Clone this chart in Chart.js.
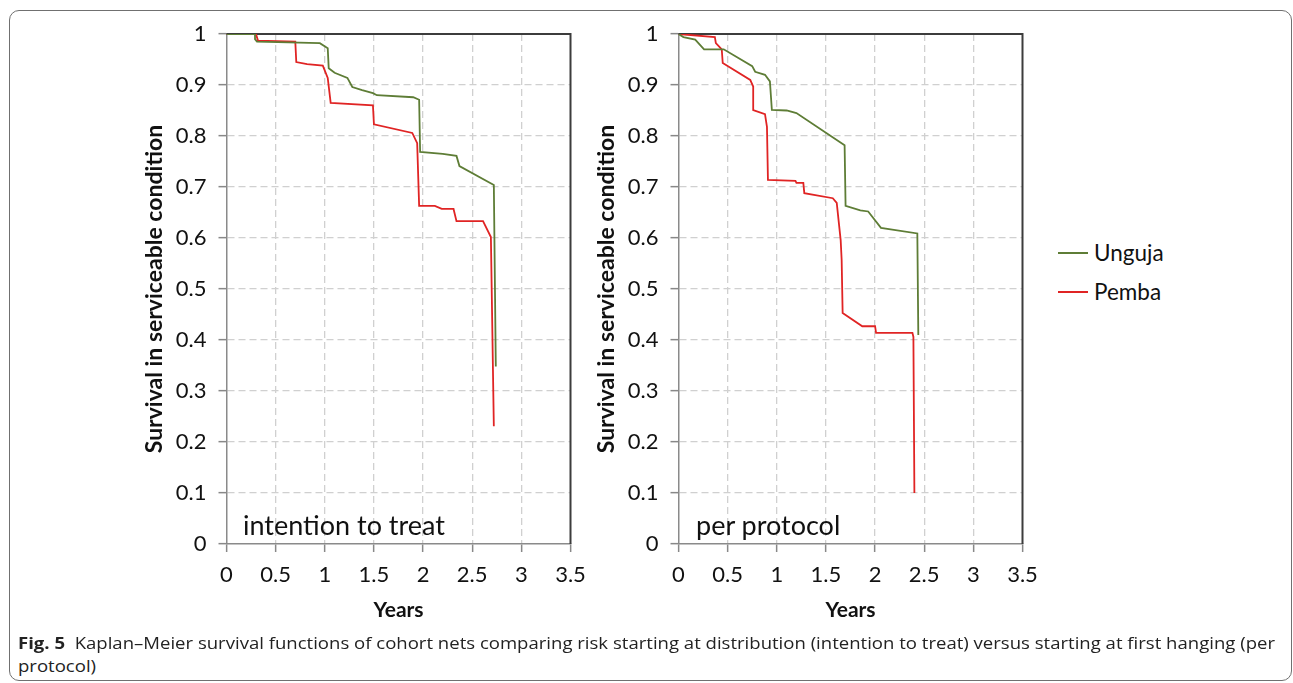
<!DOCTYPE html>
<html><head><meta charset="utf-8">
<script src="https://cdn.jsdelivr.net/npm/chart.js@4.4.1/dist/chart.umd.min.js"></script>
<style>
html,body{margin:0;padding:0;background:#fff;}
body{width:1293px;height:683px;position:relative;overflow:hidden;font-family:Lato,'Open Sans',sans-serif;}
#frame{position:absolute;left:9px;top:10px;width:1283px;height:671px;border:1.5px solid #707070;border-radius:10px;box-sizing:border-box;}
.cw{position:absolute;top:0;width:600px;height:640px;}
.note{position:absolute;font-size:27px;line-height:32px;color:#111;white-space:nowrap;}
.legline{position:absolute;left:1058px;width:30px;height:2px;}
.legtxt{position:absolute;left:1094px;font-size:22.5px;line-height:26px;color:#111;white-space:nowrap;}
.cap{position:absolute;left:18px;font-family:'Open Sans',sans-serif;font-size:15.5px;line-height:23px;color:#222;white-space:nowrap;transform-origin:0 50%;}
</style></head>
<body>
<div id="frame"></div>
<div class="cw" style="left:0"><canvas id="c1" width="600" height="640"></canvas></div>
<div class="cw" style="left:452px"><canvas id="c2" width="600" height="640"></canvas></div>
<div class="note" style="left:243px;top:509px">intention to treat</div>
<div class="note" style="left:696px;top:509px">per protocol</div>
<div class="legline" style="top:252px;background:#5e7d36"></div>
<div class="legtxt" style="top:240px">Unguja</div>
<div class="legline" style="top:291px;background:#e02424"></div>
<div class="legtxt" style="top:279px">Pemba</div>
<div class="cap" id="cap1" style="top:632px"><b>Fig. 5</b>&nbsp; Kaplan–Meier survival functions of cohort nets comparing risk starting at distribution (intention to treat) versus starting at first hanging (per</div>
<div class="cap" id="cap2" style="top:655px">protocol)</div>
<script>
// ---- data ----
const xTickLabels = ['0','0.5','1','1.5','2','2.5','3','3.5'];
const yTickLabels = ['0','0.1','0.2','0.3','0.4','0.5','0.6','0.7','0.8','0.9','1'];
const seriesNames = ['Unguja','Pemba'];

// Intention to treat
const ittUngujaX = [0, 0.29, 0.29, 0.31, 0.95, 1.03, 1.04, 1.10, 1.23, 1.28, 1.38, 1.49, 1.53, 1.90, 1.96, 1.97, 2.20, 2.34, 2.37, 2.72, 2.74];
const ittUngujaY = [1, 1, 0.99, 0.985, 0.982, 0.972, 0.933, 0.924, 0.914, 0.896, 0.890, 0.884, 0.880, 0.876, 0.871, 0.769, 0.765, 0.761, 0.741, 0.704, 0.348];
const ittPembaX = [0, 0.30, 0.32, 0.70, 0.71, 0.82, 0.98, 1.03, 1.06, 1.49, 1.50, 1.89, 1.94, 1.96, 2.12, 2.19, 2.31, 2.34, 2.61, 2.69, 2.72];
const ittPembaY = [1, 1, 0.987, 0.985, 0.945, 0.941, 0.938, 0.914, 0.865, 0.860, 0.823, 0.806, 0.786, 0.663, 0.663, 0.657, 0.657, 0.633, 0.633, 0.602, 0.231];

// Per protocol
const ppUngujaX = [0, 0.05, 0.17, 0.26, 0.46, 0.75, 0.78, 0.88, 0.93, 0.95, 1.10, 1.20, 1.69, 1.70, 1.85, 1.93, 2.06, 2.43, 2.44];
const ppUngujaY = [1, 0.994, 0.989, 0.970, 0.970, 0.937, 0.926, 0.920, 0.907, 0.851, 0.850, 0.845, 0.782, 0.663, 0.654, 0.652, 0.620, 0.609, 0.410];
const ppPembaX = [0, 0.37, 0.38, 0.44, 0.45, 0.73, 0.76, 0.76, 0.88, 0.90, 0.91, 1.19, 1.20, 1.27, 1.28, 1.57, 1.61, 1.65, 1.66, 1.67, 1.87, 2.00, 2.01, 2.38, 2.39, 2.40];
const ppPembaY = [1, 0.994, 0.982, 0.970, 0.943, 0.910, 0.897, 0.851, 0.843, 0.818, 0.714, 0.712, 0.708, 0.708, 0.688, 0.678, 0.669, 0.596, 0.557, 0.453, 0.427, 0.427, 0.414, 0.414, 0.406, 0.100];

const colors = ['#5e7d36', '#e02424'];

function pts(xs, ys){ return xs.map((x,i)=>({x:x, y:ys[i]})); }

const framePlugin = {
  id:'frameTR',
  beforeDatasetsDraw(chart){
    const {ctx, chartArea:a} = chart;
    ctx.save();
    ctx.strokeStyle = '#3c3c3c';
    ctx.lineWidth = 2;
    ctx.beginPath();
    ctx.moveTo(a.left, a.top);
    ctx.lineTo(a.right, a.top);
    ctx.lineTo(a.right, a.bottom);
    ctx.stroke();
    ctx.restore();
  }
};

function gridColor(maxV){
  return (c) => {
    const v = c.tick ? c.tick.value : null;
    if (v === null) return '#d0d0d0';
    if (Math.abs(v) < 1e-9 || Math.abs(v - maxV) < 1e-9) return 'rgba(0,0,0,0)';
    return '#d0d0d0';
  };
}

function makeChart(id, uX, uY, pX, pY){
  return new Chart(document.getElementById(id), {
    type: 'line',
    data: {
      datasets: [
        {label: seriesNames[0], data: pts(uX,uY), borderColor: colors[0], borderWidth: 1.8, pointRadius: 0, tension: 0, fill: false},
        {label: seriesNames[1], data: pts(pX,pY), borderColor: colors[1], borderWidth: 1.8, pointRadius: 0, tension: 0, fill: false}
      ]
    },
    options: {
      responsive: false,
      animation: false,
      layout: {padding: {top: 34, right: 29.5, left: 0, bottom: 0}},
      plugins: {legend: {display: false}, tooltip: {enabled: false}},
      scales: {
        x: {
          type: 'linear', min: 0, max: 3.5,
          afterFit: (s) => { s.height = 96; },
          ticks: {stepSize: 0.5, color: '#111', font: {family: 'Lato', size: 22}, padding: 10,
                  callback: (v) => xTickLabels[Math.round(v / 0.5)]},
          grid: {color: gridColor(3.5), lineWidth: 1.3, tickColor: '#888', tickLength: 8, tickWidth: 1.5},
          border: {display: true, color: '#8a8a8a', width: 1.5, dash: [7,4]},
          title: {display: true, text: 'Years', color: '#111', font: {family: 'Lato', size: 21, weight: 'bold'}, padding: {top: 0, bottom: 17}}
        },
        y: {
          min: 0, max: 1,
          afterFit: (s) => { s.width = 226.5; },
          ticks: {stepSize: 0.1, color: '#111', font: {family: 'Lato', size: 22}, padding: 12,
                  callback: (v) => yTickLabels[Math.round(v * 10)]},
          grid: {color: gridColor(1), lineWidth: 1.3, tickColor: '#888', tickLength: 8, tickWidth: 1.5},
          border: {display: true, color: '#8a8a8a', width: 1.5, dash: [7,4]},
          title: {display: true, text: 'Survival in serviceable condition', color: '#111', font: {family: 'Lato', size: 23, weight: 'bold'}, padding: {top: 141, bottom: 0}}
        }
      }
    },
    plugins: [framePlugin]
  });
}

function fitCaption(){
  const c1 = document.getElementById('cap1');
  const c2 = document.getElementById('cap2');
  const w = c1.getBoundingClientRect().width;
  const k = 1257 / w;
  c1.style.transform = 'scaleX(' + k + ')';
  c2.style.transform = 'scaleX(' + k + ')';
}

function init(){
  makeChart('c1', ittUngujaX, ittUngujaY, ittPembaX, ittPembaY);
  makeChart('c2', ppUngujaX, ppUngujaY, ppPembaX, ppPembaY);
  fitCaption();
}
if (document.fonts && document.fonts.load) {
  Promise.all([
    document.fonts.load('20px Lato'), document.fonts.load('bold 20px Lato'),
    document.fonts.load('15.5px "Open Sans"'), document.fonts.load('bold 15.5px "Open Sans"')
  ]).then(init, init);
} else { init(); }
</script>
</body></html>
